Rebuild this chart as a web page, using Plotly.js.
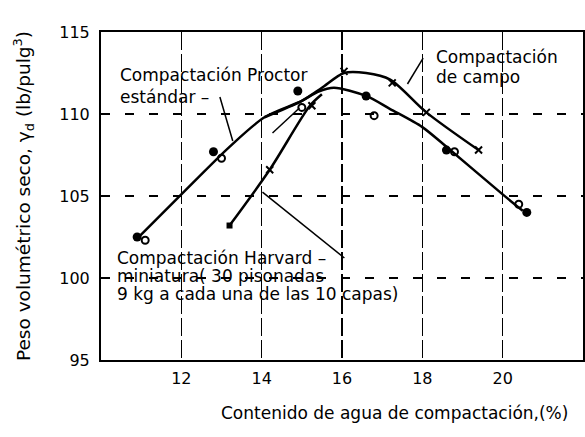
<!DOCTYPE html>
<html>
<head>
<meta charset="utf-8">
<script src="https://cdn.plot.ly/plotly-3.0.1.min.js"></script>
<style>
	body { margin: 0; background: #fff; }
	#chart { width: 585px; height: 437px; }
</style>
</head>
<body>
<div id="chart"></div>
<script>
// curves (water content %, dry unit weight lb/ft3)
var proctorX = [10.9, 12.0, 13.2, 14.07, 15.0, 15.4, 15.8, 16.6, 17.2, 18.0, 18.6, 20.0, 20.5];
var proctorY = [102.4, 105.1, 108.0, 109.8, 110.8, 111.35, 111.6, 111.1, 110.3, 109.2, 108.0, 105.1, 104.1];

var harvardX = [13.2, 14.2, 15.2, 15.5];
var harvardY = [103.2, 106.6, 110.5, 111.2];

var campoX = [14.07, 15.0, 15.5, 16.05, 16.6, 17.2, 18.1, 19.4];
var campoY = [109.8, 110.8, 111.6, 112.5, 112.5, 112.1, 110.1, 107.8];

// measured points
var dotsX = [10.9, 12.8, 14.9, 16.6, 18.6, 20.6];
var dotsY = [102.5, 107.7, 111.4, 111.1, 107.8, 104.0];
var circlesX = [11.1, 13.0, 15.0, 16.8, 18.8, 20.4];
var circlesY = [102.3, 107.3, 110.4, 109.9, 107.7, 104.5];
var crossX = [14.2, 15.25, 16.05, 17.25, 18.1, 19.4];
var crossY = [106.6, 110.5, 112.6, 111.9, 110.1, 107.8];
var squareX = [13.2];
var squareY = [103.2];

var xTicks = [12, 14, 16, 18, 20];
var yTicks = [95, 100, 105, 110, 115];

window.onload = function () {
	drawChart();
}

function label(x, y, text, size) {
	return {x: x, y: y, xanchor: 'left', yanchor: 'middle', showarrow: false,
		text: text, font: {size: size}};
}

function leader(x0, y0, x1, y1) {
	return {type: 'line', xref: 'x', yref: 'y', x0: x0, y0: y0, x1: x1, y1: y1,
		line: {color: 'black', width: 1.5}};
}

function drawChart() {
	var target = document.getElementById('chart');
	var line = {color: 'black', width: 2.5, shape: 'spline', smoothing: 0.8};
	var data = [
		{x: proctorX, y: proctorY, mode: 'lines', line: line, name: 'Proctor estándar'},
		{x: harvardX, y: harvardY, mode: 'lines', line: line, name: 'Harvard miniatura'},
		{x: campoX, y: campoY, mode: 'lines', line: line, name: 'Campo'},
		{x: dotsX, y: dotsY, mode: 'markers',
			marker: {symbol: 'circle', size: 9, color: 'black'}},
		{x: circlesX, y: circlesY, mode: 'markers',
			marker: {symbol: 'circle-open', size: 7, color: 'black', line: {width: 2}}},
		{x: crossX, y: crossY, mode: 'markers',
			marker: {symbol: 'x-thin', size: 7, color: 'black', line: {width: 2, color: 'black'}}},
		{x: squareX, y: squareY, mode: 'markers',
			marker: {symbol: 'square', size: 6, color: 'black'}}
	];
	var layout = {
		width: 585,
		height: 437,
		showlegend: false,
		paper_bgcolor: 'white',
		plot_bgcolor: 'white',
		margin: {l: 101, r: 2, t: 32, b: 77},
		font: {family: 'DejaVu Sans', color: 'black', size: 16},
		xaxis: {
			range: [10, 22],
			tickvals: xTicks,
			ticks: '',
			ticklabelstandoff: 3,
			tickfont: {size: 16},
			showline: true, mirror: true, linecolor: 'black', linewidth: 2,
			showgrid: true, gridcolor: 'black', gridwidth: 1.5, griddash: '18px,4px',
			zeroline: false
		},
		yaxis: {
			range: [95, 115],
			tickvals: yTicks,
			ticks: '',
			ticklabelstandoff: 6,
			tickfont: {size: 16},
			showline: true, mirror: true, linecolor: 'black', linewidth: 2,
			showgrid: true, gridcolor: 'black', gridwidth: 1.5, griddash: '9px,15px',
			zeroline: false,
			title: {text: 'Peso volumétrico seco, γ<sub>d</sub> (lb/pulg<sup>3</sup>)',
				font: {size: 18.5}, standoff: 24}
		},
		shapes: [
			leader(12.96, 111.04, 13.28, 108.35),
			leader(18.02, 113.41, 17.63, 111.83),
			leader(16.06, 101.22, 14.02, 105.24),
			leader(14.27, 108.84, 14.94, 110.37)
		],
		annotations: [
			{xref: 'paper', yref: 'paper', x: 0.609, y: -0.125, yanchor: 'top', showarrow: false,
				text: 'Contenido de agua de compactación,(%)', font: {size: 17}},
			label(10.42, 112.35, 'Compactación Proctor', 17),
			label(10.42, 111.05, 'estándar –', 17),
			label(18.3, 113.45, 'Compactación', 17),
			label(18.3, 112.25, 'de campo', 17),
			label(10.35, 101.2, 'Compactación Harvard –', 17),
			label(10.35, 100.1, 'miniatura( 30 pisonadas', 17),
			label(10.35, 99.0, '9 kg a cada una de las 10 capas)', 17)
		]
	};
	Plotly.newPlot(target, data, layout, {staticPlot: true});
}
</script>
</body>
</html>
